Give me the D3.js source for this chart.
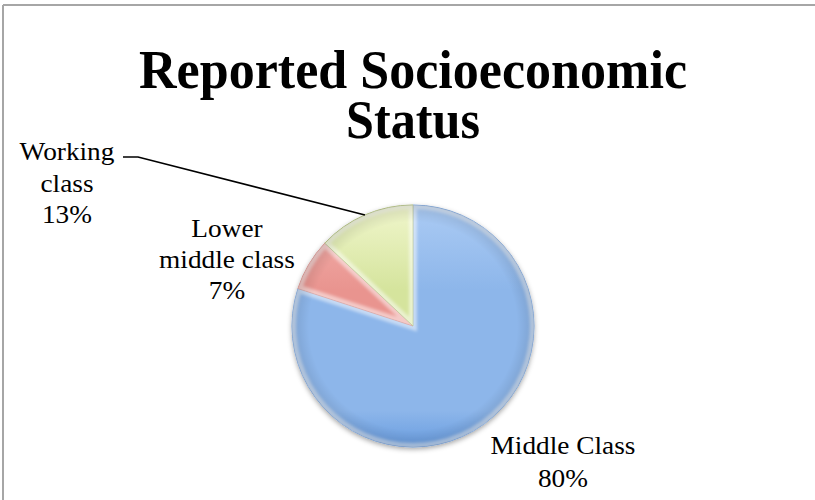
<!DOCTYPE html>
<html lang="en">
  <head>
    <meta charset="UTF-8">
    <title>Reported Socioeconomic Status</title>
    <script src="https://cdn.jsdelivr.net/npm/d3@7"></script>
    <style>
      body { margin: 0; background: #fff; }
      text { font-family: "Liberation Serif", "DejaVu Serif", serif; fill: #000; }
      .title { font-weight: bold; font-size: 54px; }
      .label { font-size: 26px; }
    </style>
  </head>
  <body>
    <svg id="chart"></svg>

    <script>
      // data
      var categories = ["Middle Class", "Lower middle class", "Working class"];
      var values = [80, 7, 13];
      var labelLines = [["Middle Class", "80%"], ["Lower", "middle class", "7%"], ["Working", "class", "13%"]];
      var titleLines = ["Reported Socioeconomic", "Status"];

      var colors = [
        { top: "#abcbf4", mid: "#8db6ea", bottom: "#699de0", edge: "#5f8fcf" },
        { top: "#f4b5b1", mid: "#e9948f", bottom: "#d8716b", edge: "#c86a65" },
        { top: "#f0f6cc", mid: "#d5e49d", bottom: "#b9cd78", edge: "#8fa34c" }
      ];

      var width = 815, height = 500;
      var cx = 413, cy = 326, radius = 121;

      var svg = d3.select("#chart").attr("width", width).attr("height", height);

      // chart frame (only top and left edge are in view)
      svg.append("line").attr("x1", 3).attr("x2", width).attr("y1", 5).attr("y2", 5)
        .attr("stroke", "#a6a6a6").attr("stroke-width", 2);
      svg.append("line").attr("x1", 3).attr("x2", 3).attr("y1", 5).attr("y2", height)
        .attr("stroke", "#a6a6a6").attr("stroke-width", 2);

      var defs = svg.append("defs");

      colors.forEach(function(c, i) {
        var g = defs.append("linearGradient").attr("id", "grad" + i)
          .attr("gradientUnits", "userSpaceOnUse")
          .attr("x1", 0).attr("y1", -radius).attr("x2", 0).attr("y2", radius);
        g.append("stop").attr("offset", "0%").attr("stop-color", c.top);
        g.append("stop").attr("offset", "35%").attr("stop-color", c.mid);
        g.append("stop").attr("offset", "85%").attr("stop-color", c.mid);
        g.append("stop").attr("offset", "100%").attr("stop-color", c.bottom);
      });

      var rim = defs.append("radialGradient").attr("id", "rim")
        .attr("gradientUnits", "userSpaceOnUse")
        .attr("cx", 0).attr("cy", 0).attr("r", radius);
      rim.append("stop").attr("offset", "86%").attr("stop-color", "#000").attr("stop-opacity", 0);
      rim.append("stop").attr("offset", "100%").attr("stop-color", "#000").attr("stop-opacity", 0.12);

      var shadow = defs.append("filter").attr("id", "shadow")
        .attr("x", "-20%").attr("y", "-20%").attr("width", "140%").attr("height", "140%");
      shadow.append("feDropShadow").attr("dx", 0).attr("dy", 2).attr("stdDeviation", 2.5)
        .attr("flood-color", "#000").attr("flood-opacity", 0.35);

      var bevel = defs.append("filter").attr("id", "bevel");
      bevel.append("feGaussianBlur").attr("stdDeviation", 1.5);

      var pie = d3.pie().sort(null).value(function(d) { return d; });
      var arcs = pie(values);
      var arc = d3.arc().innerRadius(0).outerRadius(radius);

      var g = svg.append("g").attr("transform", "translate(" + cx + "," + cy + ")");

      var slices = g.append("g").attr("filter", "url(#shadow)");
      slices.selectAll("path")
        .data(arcs)
        .enter()
        .append("path")
        .attr("d", arc)
        .attr("fill", function(d, i) { return "url(#grad" + i + ")"; })
        .attr("stroke", function(d, i) { return colors[i].edge; })
        .attr("stroke-width", 0.8);

      // soft highlight along each slice's inner edges
      arcs.forEach(function(d, i) {
        var clipId = "clip" + i;
        defs.append("clipPath").attr("id", clipId).append("path").attr("d", arc(d));
        g.append("path")
          .attr("d", arc(d))
          .attr("clip-path", "url(#" + clipId + ")")
          .attr("fill", "none")
          .attr("stroke", "#fff")
          .attr("stroke-opacity", 0.5)
          .attr("stroke-width", 8)
          .attr("filter", "url(#bevel)");
      });

      g.append("circle").attr("r", radius).attr("fill", "url(#rim)");

      // title
      var titleBase = [88, 138];
      var titleWidth = [548, 134];
      titleLines.forEach(function(t, i) {
        svg.append("text")
          .attr("class", "title")
          .attr("x", cx)
          .attr("y", titleBase[i])
          .attr("text-anchor", "middle")
          .attr("textLength", titleWidth[i])
          .attr("lengthAdjust", "spacingAndGlyphs")
          .text(t);
      });

      // data labels
      var labelAnchor = [[563, 454], [227, 237], [67, 160]];
      var lineGap = [33, 31, 31.5];

      labelLines.forEach(function(lines, i) {
        var txt = svg.append("text").attr("class", "label").attr("text-anchor", "middle");
        lines.forEach(function(line, j) {
          var ts = txt.append("tspan")
            .attr("x", labelAnchor[i][0])
            .attr("y", labelAnchor[i][1] + j * lineGap[i])
            .text(line);
          var w = ts.node().getComputedTextLength();
          ts.attr("textLength", w * 1.05).attr("lengthAdjust", "spacingAndGlyphs");
        });
      });

      // leader line for the working class label
      var wc = arcs[2];
      var mid = (wc.startAngle + wc.endAngle) / 2;
      var ex = cx + Math.sin(mid) * radius, ey = cy - Math.cos(mid) * radius;
      svg.append("path")
        .attr("d", d3.line()([[123, 157], [138, 157], [ex, ey]]))
        .attr("fill", "none")
        .attr("stroke", "#000")
        .attr("stroke-width", 1.6);
    </script>
  </body>
</html>
